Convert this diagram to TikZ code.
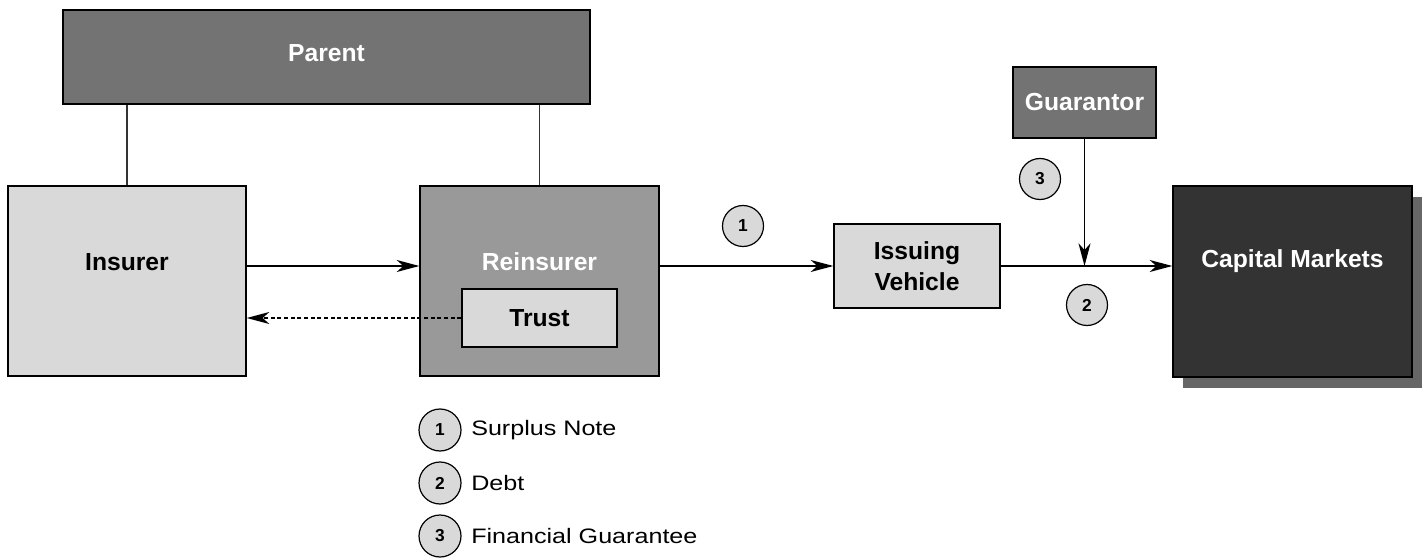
\documentclass[tikz,border=0pt]{standalone}
\usepackage{fontspec}
\setmainfont{Liberation Sans}
\newfontfamily\legfont[FakeStretch=1.2]{Liberation Sans}
\usetikzlibrary{arrows.meta,shadows}
\definecolor{lightbox}{HTML}{D9D9D9}
\definecolor{midbox}{HTML}{999999}
\definecolor{darkbox}{HTML}{737373}
\definecolor{blackbox}{HTML}{333333}
\definecolor{shadowgray}{HTML}{666666}
\definecolor{linegray}{HTML}{333333}
\tikzset{
  boxstyle/.style={draw=black, line width=1pt, rectangle, inner sep=0pt},
  lbl/.style={font=\fontsize{18.5}{22}\selectfont\bfseries},
  numc/.style={circle, draw=black, fill=lightbox, line width=0.9pt, minimum size=30.75pt, inner sep=0pt, font=\fontsize{13}{15}\selectfont\bfseries},
  arr/.style={draw=black, line width=1pt, -{Stealth[length=17pt,width=9pt,inset=5pt]}},
  conn/.style={draw=linegray, line width=1pt},
  legtext/.style={anchor=west, inner sep=0pt, font=\legfont\fontsize{15.7}{18}\selectfont}
}
\begin{document}
\begin{tikzpicture}[x=0.75pt,y=-0.75pt]
\useasboundingbox (0,0) rectangle (1426,559);
% boxes
\node[boxstyle, fill=darkbox, minimum width=395.25pt, minimum height=70.5pt,
  label={[lbl, text=white, yshift=3pt]center:Parent}] (parent) at (326.5,57) {};
\node[boxstyle, fill=lightbox, minimum width=178.5pt, minimum height=142.5pt,
  label={[lbl, text=black, yshift=14.25pt]center:Insurer}] (insurer) at (127,281) {};
\node[boxstyle, fill=midbox, minimum width=179.25pt, minimum height=142.5pt,
  label={[lbl, text=white, yshift=14.25pt]center:Reinsurer}] (reinsurer) at (539.5,281) {};
\node[boxstyle, fill=lightbox, minimum width=116.25pt, minimum height=43.5pt,
  lbl] (trust) at (539.5,318) {Trust};
\node[boxstyle, fill=lightbox, minimum width=124.5pt, minimum height=63pt,
  lbl, align=center] (iv) at (917,266) {Issuing\\[1pt]Vehicle};
\node[boxstyle, fill=darkbox, minimum width=107.25pt, minimum height=53.25pt,
  lbl, text=white] (guar) at (1084.5,102.5) {Guarantor};
\node[boxstyle, fill=blackbox, minimum width=179.25pt, minimum height=143.25pt,
  general shadow={fill=shadowgray, draw=none, shadow xshift=7.5pt, shadow yshift=-8.25pt},
  label={[lbl, text=white, yshift=15pt]center:Capital Markets}] (cm) at (1292.5,281.5) {};
% connectors
\draw[conn] (parent.south -| insurer.north) -- (insurer.north);
\draw[conn] (parent.south -| reinsurer.north) -- (reinsurer.north);
\draw[arr] (insurer.east |- iv.west) -- (reinsurer.west |- iv.west);
\draw[arr] (reinsurer.east |- iv.west) -- (iv.west);
\draw[arr] (iv.east) -- (cm.west |- iv.east);
\coordinate (join) at (guar.south |- iv.east);
\draw[arr] (guar.south) -- (join);
\draw[arr, dash pattern=on 3pt off 2pt] (trust.west) -- (insurer.east |- trust.west);
% numbered circles
\node[numc] (c1) at (743,226) {1};
\node[numc] (c3) at (1040,179) {3};
\node[numc] (c2) at (1087,305) {2};
% legend
\node[numc, minimum size=31.5pt] (l1) at (440,430) {1};
\node[numc, minimum size=31.5pt] (l2) at (440,483) {2};
\node[numc, minimum size=31.5pt] (l3) at (440,536) {3};
\node[legtext] (t1) at (471,430) {Surplus Note};
\node[legtext] (t2) at (471,483) {Debt};
\node[legtext] (t3) at (471,536) {Financial Guarantee};
\end{tikzpicture}
\end{document}
